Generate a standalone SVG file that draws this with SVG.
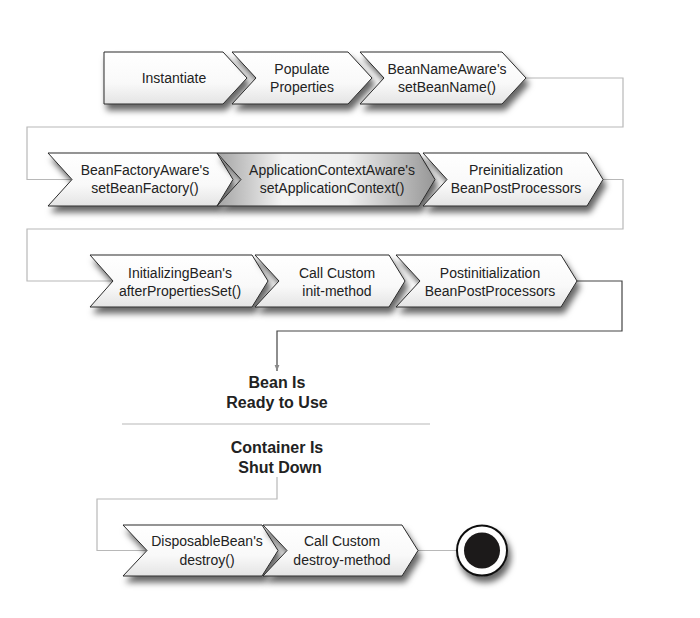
<svg xmlns="http://www.w3.org/2000/svg" width="700" height="618" viewBox="0 0 700 618">
<defs>
<linearGradient id="gw" x1="0" y1="0" x2="0" y2="1">
<stop offset="0" stop-color="#ffffff"/>
<stop offset="0.6" stop-color="#f9f9f9"/>
<stop offset="1" stop-color="#e4e4e4"/>
</linearGradient>
<linearGradient id="gg" x1="0" y1="0" x2="1" y2="0">
<stop offset="0" stop-color="#a4a4a4"/>
<stop offset="0.3" stop-color="#f4f4f4"/>
<stop offset="0.6" stop-color="#efefef"/>
<stop offset="1" stop-color="#979797"/>
</linearGradient>
<filter id="sh" x="-10%" y="-20%" width="130%" height="170%">
<feDropShadow dx="3" dy="6" stdDeviation="3.2" flood-color="#000" flood-opacity="0.6"/>
</filter>
<marker id="ah" viewBox="0 0 10 10" refX="10" refY="5" markerWidth="6" markerHeight="8" markerUnits="userSpaceOnUse" orient="auto">
<path d="M0,1 L10,5 L0,9 Z" fill="#8a8a8a"/>
</marker>
</defs>
<style>
.chev{fill:url(#gw);stroke:#2a2a2a;stroke-width:1;filter:url(#sh)}
.chevg{fill:url(#gg);stroke:#2a2a2a;stroke-width:1;filter:url(#sh)}
.lbl{font-family:"Liberation Sans",Arial,sans-serif;font-size:14px;fill:#222;text-anchor:middle}
.bold{font-family:"Liberation Sans",Arial,sans-serif;font-size:16px;font-weight:bold;fill:#222;text-anchor:middle}
.conn{fill:none;stroke:#b8b8b8;stroke-width:1.2}
.connd{fill:none;stroke:#444;stroke-width:1.2}
</style>
<rect width="700" height="618" fill="#ffffff"/>
<g id="connectors">
<path class="conn" d="M526,78 H623 V127 H27 V179.5 H72"/>
<path class="conn" d="M603,179.5 H623 V229 H27 V281 H113"/>
<path class="connd" d="M577,281 H622 V331 H277 V371" marker-end="url(#ah)"/>
<path class="conn" d="M277,477 V499 H97 V550.5 H147"/>
<path class="conn" d="M418,550.5 H457"/>
<path class="conn" d="M122,424 H430"/>
</g>
<g id="instantiate">
<polygon class="chev" points="104,52 223,52 247,78 223,104 104,104"/>
<text class="lbl" x="174" y="83">Instantiate</text>
</g>
<g id="populate">
<polygon class="chev" points="232,52 348,52 372,78 348,104 232,104 256,78"/>
<text class="lbl" x="302" y="74">Populate</text>
<text class="lbl" x="302" y="92">Properties</text>
</g>
<g id="beanNameAware">
<polygon class="chev" points="360,52 502,52 526,78 502,104 360,104 384,78"/>
<text class="lbl" x="447" y="74">BeanNameAware's</text>
<text class="lbl" x="447" y="92">setBeanName()</text>
</g>
<g id="beanFactoryAware">
<polygon class="chev" points="48,153 217,153 233,179.5 217,206 48,206 72,179.5"/>
<text class="lbl" x="145" y="175">BeanFactoryAware's</text>
<text class="lbl" x="145" y="193">setBeanFactory()</text>
</g>
<g id="applicationContextAware">
<polygon class="chevg" points="217,153 419,153 435,179.5 419,206 217,206 241,179.5"/>
<text class="lbl" x="332" y="175">ApplicationContextAware's</text>
<text class="lbl" x="332" y="193">setApplicationContext()</text>
</g>
<g id="preinitialization">
<polygon class="chev" points="423,153 587,153 603,179.5 587,206 423,206 447,179.5"/>
<text class="lbl" x="516" y="175">Preinitialization</text>
<text class="lbl" x="516" y="193">BeanPostProcessors</text>
</g>
<g id="initializingBean">
<polygon class="chev" points="90,255 252,255 268,281 252,307 90,307 113,281"/>
<text class="lbl" x="180" y="278">InitializingBean's</text>
<text class="lbl" x="180" y="296">afterPropertiesSet()</text>
</g>
<g id="initMethod">
<polygon class="chev" points="255,255 389,255 405,281 389,307 255,307 279,281"/>
<text class="lbl" x="337" y="278">Call Custom</text>
<text class="lbl" x="337" y="296">init-method</text>
</g>
<g id="postinitialization">
<polygon class="chev" points="396,255 561,255 577,281 561,307 396,307 420,281"/>
<text class="lbl" x="490" y="278">Postinitialization</text>
<text class="lbl" x="490" y="296">BeanPostProcessors</text>
</g>
<g id="ready">
<text class="bold" x="277" y="388">Bean Is</text>
<text class="bold" x="277" y="408">Ready to Use</text>
</g>
<g id="shutdown">
<text class="bold" x="277" y="453">Container Is</text>
<text class="bold" x="280" y="473">Shut Down</text>
</g>
<g id="disposableBean">
<polygon class="chev" points="123,525 262,525 278,550.5 262,576 123,576 147,550.5"/>
<text class="lbl" x="207" y="546">DisposableBean's</text>
<text class="lbl" x="207" y="565">destroy()</text>
</g>
<g id="destroyMethod">
<polygon class="chev" points="263,525 402,525 418,550.5 402,576 263,576 287,550.5"/>
<text class="lbl" x="342" y="546">Call Custom</text>
<text class="lbl" x="342" y="565">destroy-method</text>
</g>
<g id="end">
<circle cx="482" cy="550.5" r="25" fill="#ffffff" stroke="#111" stroke-width="2" filter="url(#sh)"/>
<circle cx="482" cy="550.5" r="18" fill="#1c1a1a"/>
</g>
</svg>
